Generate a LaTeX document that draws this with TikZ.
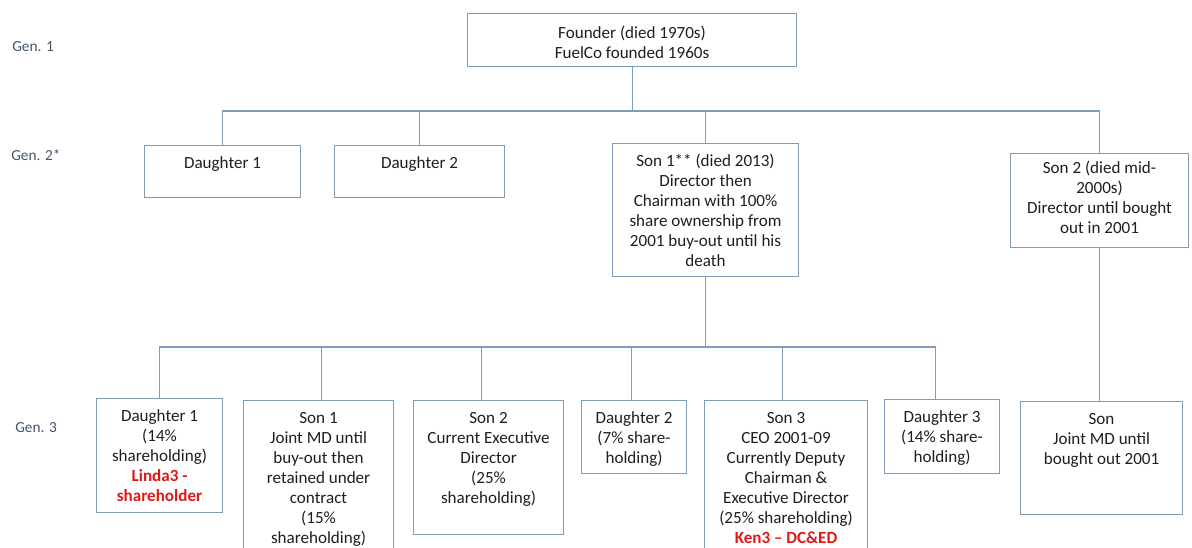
\documentclass[tikz,border=0pt]{standalone}
\usepackage{fontspec}
\setmainfont{Carlito}
\usetikzlibrary{positioning}

\definecolor{framecol}{HTML}{7F9DB9}
\definecolor{bodytext}{HTML}{1E1E1E}
\definecolor{gencol}{HTML}{44546A}
\definecolor{notered}{HTML}{E01818}

% fixed-size cell: width, height, top padding, text (top aligned, centred lines)
\newcommand{\famcell}[4]{\parbox[c][#2][t]{#1}{\centering\vspace*{#3}\strut #4}}
\newcommand{\rednote}[1]{{\bfseries\color{notered}#1}}

\tikzset{
  person/.style={draw=framecol, line width=0.8pt, inner sep=0pt, anchor=north west,
                 text=bodytext, font=\fontsize{12.8}{15}\selectfont},
  genlabel/.style={anchor=west, text=gencol, inner sep=0pt, font=\fontsize{11.5}{14}\selectfont},
  link/.style={draw=framecol, line width=0.8pt}
}

\begin{document}
\begin{tikzpicture}[x=0.75pt, y=-0.75pt]
\useasboundingbox (0,0) rectangle (1192,547);
\clip (0,0) rectangle (1192,547);

% generation labels
\node[genlabel] (g1) at (12,47) {Gen. 1};
\node[genlabel] (g2) at (11,155) {Gen. 2*};
\node[genlabel] (g3) at (15,428) {Gen. 3};

% generation 1
\node[person] (founder) at (467,13)
  {\famcell{246.75pt}{39.75pt}{8.25pt}{Founder (died 1970s)\\FuelCo founded 1960s}};

% generation 2
\node[person] (gd1) at (144,145) {\famcell{117pt}{39pt}{6.75pt}{Daughter 1}};
\node[person] (gd2) at (334,145) {\famcell{127.5pt}{39pt}{6.75pt}{Daughter 2}};
\node[person] (gs1) at (612,143)
  {\famcell{139.5pt}{99.75pt}{6.75pt}{Son 1** (died 2013)\\Director then\\Chairman with 100\%\\share ownership from\\2001 buy-out until his\\death}};
\node[person] (gs2) at (1010,153)
  {\famcell{133.5pt}{70.5pt}{4.5pt}{Son 2 (died mid-\\2000s)\\Director until bought\\out in 2001}};

% generation 3
\node[person] (cd1) at (96,398)
  {\famcell{94.5pt}{85.5pt}{6.75pt}{Daughter 1\\(14\%\\shareholding)\\\rednote{Linda3 -}\\\rednote{shareholder}}};
\node[person] (cs1) at (243,400)
  {\famcell{112.5pt}{120pt}{6.75pt}{Son 1\\Joint MD until\\buy-out then\\retained under\\contract\\(15\%\\shareholding)}};
\node[person] (cs2) at (413,400)
  {\famcell{112.5pt}{100.5pt}{6.75pt}{Son 2\\Current Executive\\Director\\(25\%\\shareholding)}};
\node[person] (cd2) at (581,400)
  {\famcell{78.75pt}{54.75pt}{6.75pt}{Daughter 2\\(7\% share-\\holding)}};
\node[person] (cs3) at (704,400)
  {\famcell{122.25pt}{120pt}{6.75pt}{Son 3\\CEO 2001-09\\Currently Deputy\\Chairman \&\\Executive Director\\(25\% shareholding)\\\rednote{Ken3 – DC\&ED}}};
\node[person] (cd3) at (884,399)
  {\famcell{86.25pt}{55.5pt}{6.75pt}{Daughter 3\\(14\% share-\\holding)}};
\node[person] (cson) at (1020,401)
  {\famcell{121.5pt}{84.75pt}{6.75pt}{Son\\Joint MD until\\bought out 2001}};

% bus points of the two sibling rows
\coordinate (busA) at (founder.south |- 0,111);
\coordinate (busB) at (gs1.south |- 0,347);

% founder to his children
\draw[link] (founder.south) -- (busA);
\draw[link] (busA) -| (gd1.north);
\draw[link] (busA) -| (gd2.north);
\draw[link] (busA) -| (gs1.north);
\draw[link] (busA) -| (gs2.north);

% son 1 to his children (drops sit slightly off the box centres)
\draw[link] (gs1.south) -- (busB);
\draw[link] (busB) -| (cd1.north);
\draw[link] (busB) -| ([xshift=2.25pt]cs1.north);
\draw[link] (busB) -| ([xshift=-5.25pt]cs2.north);
\draw[link] (busB) -| ([xshift=-1.9pt]cd2.north);
\draw[link] (busB) -| ([xshift=-2.6pt]cs3.north);
\draw[link] (busB) -| ([xshift=-4.9pt]cd3.north);

% son 2 to his son, kept vertical
\draw[link] (gs2.south) -- (gs2.south |- cson.north);
\end{tikzpicture}
\end{document}
